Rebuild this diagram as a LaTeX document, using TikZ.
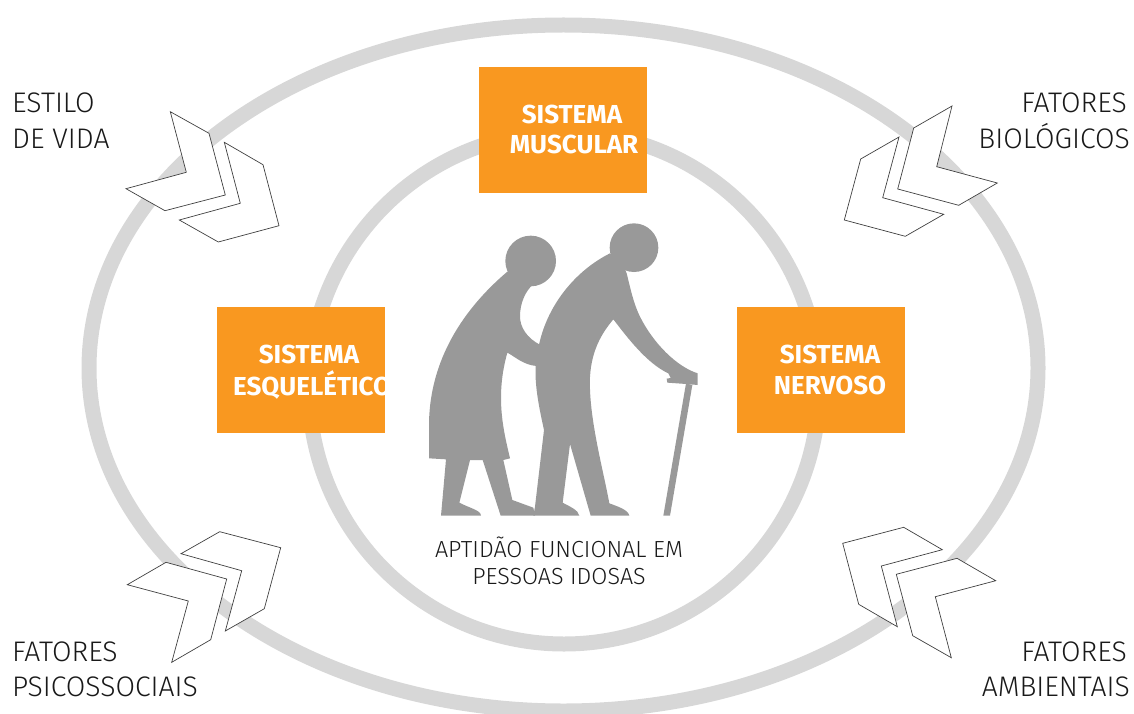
\documentclass[tikz,border=0pt]{standalone}
\usepackage{fontspec}
\setmainfont{Fira Sans}[UprightFont=* Light,BoldFont=* Bold]
\definecolor{ringc}{HTML}{D7D7D7}
\definecolor{orangec}{HTML}{F99820}
\definecolor{figc}{HTML}{999999}
\tikzset{
  ring/.style={draw=ringc,line width=15pt,fill=none},
  chevron/.style={draw=black!75,line width=0.7pt,fill=white,line join=miter},
  sysbox/.style={fill=orangec,minimum width=168pt,minimum height=126pt,inner sep=0pt,draw=none},
  systext/.style={text=white,font=\fontsize{26}{30}\selectfont\bfseries,inner sep=0pt,anchor=center},
  lbl/.style={text=black!90,font=\fontsize{28.3}{36}\selectfont,inner sep=0pt},
  captxt/.style={text=black!90,font=\fontsize{23.3}{30}\selectfont,inner sep=0pt,anchor=center}
}
\begin{document}
\begin{tikzpicture}[x=1pt,y=-1pt]
\useasboundingbox (0,0) rectangle (1134,714);
\draw[ring] (563.5,368) ellipse [x radius=474.5,y radius=343];
\draw[ring] (564,388) ellipse [x radius=255,y radius=256];
\node[sysbox] (muscular) at (563,130) {};
\node[sysbox] (esq) at (301,370) {};
\node[sysbox] (nerv) at (821,370) {};
\node[systext] (t1) at (572,114) {SISTEMA};
\node[systext] (t2) at (574,144) {MUSCULAR};
\node[systext] (t3) at (309,354) {SISTEMA};
\node[systext,anchor=west] (t4) at (233,385) {ESQUELÉTICO};
\node[systext] (t5) at (830,354) {SISTEMA};
\node[systext] (t6) at (830,385) {NERVOSO};
% silhouette
\begin{scope}[shift={(420,210)},x=0.33333pt,y=-0.33333pt]
\fill[figc] (332,153) circle [radius=76pt/3];
\fill[figc] (642,113) circle [radius=73pt/3];
\fill[figc] (262,185) .. controls (150,280) and (30,430) .. (27,640) -- (27,745) -- (78,748) -- (63,917) -- (183,917)
  .. controls (182,900) and (150,895) .. (118,878) -- (150,750) -- (188,750) -- (242,917) -- (345,917) -- (340,893) -- (277,870) -- (250,750) -- (270,745)
  .. controls (250,660) and (225,560) .. (262,428)
  .. controls (285,440) and (310,465) .. (350,468) -- (362,405)
  .. controls (320,385) and (300,350) .. (300,320)
  .. controls (300,280) and (315,245) .. (340,222) -- cycle;
\fill[figc] (570,130) .. controls (470,180) and (385,280) .. (358,400)
  .. controls (335,480) and (350,560) .. (372,660) -- (345,890) -- (340,917) -- (478,917)
  .. controls (475,900) and (450,890) .. (428,878) -- (450,702) -- (512,917) -- (628,917)
  .. controls (625,900) and (595,890) .. (568,880)
  .. controls (550,780) and (505,620) .. (510,500)
  .. controls (515,420) and (545,370) .. (580,328)
  .. controls (620,380) and (680,460) .. (745,490) -- (752,504) -- (740,506) -- (742,518) -- (798,522) -- (833,525) -- (833,490)
  .. controls (770,470) and (700,400) .. (660,320)
  .. controls (640,280) and (630,230) .. (620,190) -- (612,170) -- cycle;
\fill[figc] (798,520) -- (817,525) -- (750,917) -- (730,917) -- cycle;
\end{scope}
% chevrons
\draw[chevron] (170.3,111.7) -- (209,133.3) -- (225.3,195) -- (165,210.7) -- (126,188.7) -- (186.3,172.3) -- cycle;
\draw[chevron] (224.3,142.3) -- (263,164.7) -- (279,225.7) -- (218.3,242) -- (179.3,220) -- (240.3,203.3) -- cycle;
\draw[chevron] (952,106) -- (913.7,128) -- (897.7,189) -- (958.7,205.3) -- (997.3,183) -- (936.7,166.7) -- cycle;
\draw[chevron] (899,137) -- (860.7,159) -- (844.3,220) -- (905.3,236.3) -- (943.7,214.3) -- (882.7,197.7) -- cycle;
\draw[chevron] (127.3,584.7) -- (166,562.3) -- (226.7,579) -- (210.7,639.7) -- (171.7,662.3) -- (188.3,601) -- cycle;
\draw[chevron] (181,553.7) -- (219.7,531.7) -- (280.7,547.7) -- (264.3,608.7) -- (225.3,631) -- (241.7,570.7) -- cycle;
\draw[chevron] (842.7,543.3) -- (903.7,527.3) -- (942.3,549.7) -- (881.3,566) -- (897.3,626.7) -- (858.7,604.3) -- cycle;
\draw[chevron] (896.3,574.3) -- (957,558.3) -- (995.7,580.7) -- (935.3,596.7) -- (951.3,657.7) -- (912.7,635.7) -- cycle;
% labels
\node[lbl,anchor=base west] (l1) at (12,113) {ESTILO};
\node[lbl,anchor=base west] (l2) at (12,149) {DE VIDA};
\node[lbl,anchor=base east] (l3) at (1127,113) {FATORES};
\node[lbl,anchor=base east] (l4) at (1130,149) {BIOLÓGICOS};
\node[lbl,anchor=base west] (l5) at (12,661) {FATORES};
\node[lbl,anchor=base west] (l6) at (12,696) {PSICOSSOCIAIS};
\node[lbl,anchor=base east] (l7) at (1127,661) {FATORES};
\node[lbl,anchor=base east] (l8) at (1130,696) {AMBIENTAIS};
\node[captxt] (c1) at (559,547) {APTIDÃO FUNCIONAL EM};
\node[captxt] (c2) at (559,577) {PESSOAS IDOSAS};
\end{tikzpicture}
\end{document}
